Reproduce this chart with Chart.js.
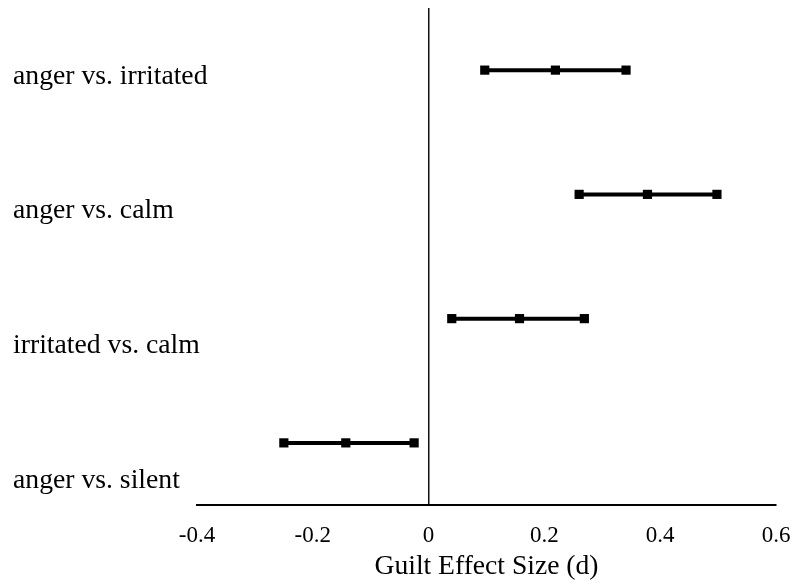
<!DOCTYPE html>
<html><head><meta charset="utf-8">
<script src="https://cdn.jsdelivr.net/npm/chart.js@4"></script>
<style>html,body{margin:0;padding:0;background:#fff}#wrap{width:796px;height:583px;position:relative}</style>
</head><body><div id="wrap"><canvas id="c"></canvas></div>
<script>
const categories = ['anger vs. irritated', 'anger vs. calm', 'irritated vs. calm', 'anger vs. silent'];
const lower    = [0.097, 0.260, 0.040, -0.250];
const estimate = [0.219, 0.378, 0.157, -0.143];
const upper    = [0.341, 0.498, 0.269, -0.025];
const xTicks   = [-0.4, -0.2, 0, 0.2, 0.4, 0.6];
const xTitle   = 'Guilt Effect Size (d)';

const n = categories.length;
const serif = "'Liberation Serif', 'Times New Roman', serif";
// label axis tick positions (labels sit a bit below each row, as in the original)
const labelPos = categories.map((_, i) => 3.449 - 1.084 * i);

const datasets = categories.map((c, i) => {
  const y = n - i - 0.5;
  return {
    label: c,
    data: [{x: lower[i], y}, {x: estimate[i], y}, {x: upper[i], y}],
    showLine: true,
    borderColor: '#000',
    borderWidth: 4,
    pointStyle: 'rect',
    pointRadius: 6.5,
    pointBackgroundColor: '#000',
    pointBorderWidth: 0,
    yAxisID: 'y'
  };
});

new Chart(document.getElementById('c'), {
  type: 'scatter',
  data: { datasets },
  options: {
    responsive: true,
    maintainAspectRatio: false,
    animation: false,
    layout: { padding: { left: 0, right: 20, top: 8, bottom: 0 } },
    plugins: { legend: { display: false }, tooltip: { enabled: false } },
    scales: {
      x: {
        type: 'linear',
        min: -0.4, max: 0.6,
        afterBuildTicks: s => { s.ticks = xTicks.map(v => ({ value: v })); },
        afterFit: s => { s.height = 78; s.paddingLeft = 0; s.paddingRight = 0; },
        grid: {
          drawTicks: false,
          color: ctx => (ctx.tick && Math.abs(ctx.tick.value) < 1e-9) ? '#111' : 'rgba(0,0,0,0)',
          lineWidth: 1.5
        },
        border: { display: true, color: '#000', width: 2 },
        ticks: {
          color: '#000',
          font: { family: serif, size: 23 },
          padding: 17,
          maxRotation: 0,
          callback: v => (Math.abs(v) < 1e-9 ? '0' : v.toFixed(1))
        },
        title: {
          display: true, text: xTitle, color: '#000',
          font: { family: serif, size: 27.6 },
          padding: { top: 0, bottom: 0 }
        }
      },
      y: {
        type: 'linear', min: 0, max: n, display: false
      },
      yl: {
        type: 'linear', min: 0, max: n, position: 'left',
        afterBuildTicks: s => { s.ticks = labelPos.map(v => ({ value: v })); },
        afterFit: s => { s.width = 197; s.paddingTop = 0; s.paddingBottom = 0; },
        grid: { display: false },
        border: { display: false },
        ticks: {
          color: '#000',
          mirror: true,
          padding: -184,
          font: { family: serif, size: 27.7 },
          callback: (v, idx) => categories[idx]
        }
      }
    }
  }
});
</script>
</body></html>
